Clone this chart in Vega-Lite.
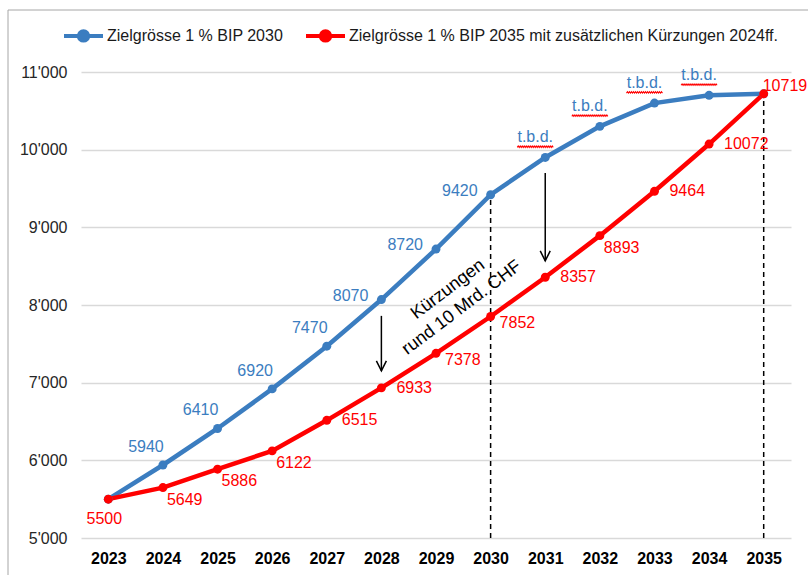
{
  "$schema": "https://vega.github.io/schema/vega-lite/v6.json",
  "width": 710,
  "height": 466,
  "autosize": {"type": "none"},
  "padding": {"left": 81, "top": 72, "right": 17, "bottom": 37},
  "background": "white",
  "config": {
    "view": {"stroke": null},
    "font": "Liberation Sans",
    "text": {"font": "Liberation Sans", "fontSize": 16}
  },
  "datasets": {
    "series": [
      {"year": 2023, "series": "Zielgrösse 1 % BIP 2030", "value": 5500, "label": ""},
      {"year": 2024, "series": "Zielgrösse 1 % BIP 2030", "value": 5940, "label": "5940"},
      {"year": 2025, "series": "Zielgrösse 1 % BIP 2030", "value": 6410, "label": "6410"},
      {"year": 2026, "series": "Zielgrösse 1 % BIP 2030", "value": 6920, "label": "6920"},
      {"year": 2027, "series": "Zielgrösse 1 % BIP 2030", "value": 7470, "label": "7470"},
      {"year": 2028, "series": "Zielgrösse 1 % BIP 2030", "value": 8070, "label": "8070"},
      {"year": 2029, "series": "Zielgrösse 1 % BIP 2030", "value": 8720, "label": "8720"},
      {"year": 2030, "series": "Zielgrösse 1 % BIP 2030", "value": 9420, "label": "9420"},
      {"year": 2031, "series": "Zielgrösse 1 % BIP 2030", "value": 9900, "label": "t.b.d."},
      {"year": 2032, "series": "Zielgrösse 1 % BIP 2030", "value": 10300, "label": "t.b.d."},
      {"year": 2033, "series": "Zielgrösse 1 % BIP 2030", "value": 10600, "label": "t.b.d."},
      {"year": 2034, "series": "Zielgrösse 1 % BIP 2030", "value": 10700, "label": "t.b.d."},
      {"year": 2035, "series": "Zielgrösse 1 % BIP 2030", "value": 10719, "label": ""},
      {"year": 2023, "series": "Zielgrösse 1 % BIP 2035 mit zusätzlichen Kürzungen 2024ff.", "value": 5500, "label": "5500"},
      {"year": 2024, "series": "Zielgrösse 1 % BIP 2035 mit zusätzlichen Kürzungen 2024ff.", "value": 5649, "label": "5649"},
      {"year": 2025, "series": "Zielgrösse 1 % BIP 2035 mit zusätzlichen Kürzungen 2024ff.", "value": 5886, "label": "5886"},
      {"year": 2026, "series": "Zielgrösse 1 % BIP 2035 mit zusätzlichen Kürzungen 2024ff.", "value": 6122, "label": "6122"},
      {"year": 2027, "series": "Zielgrösse 1 % BIP 2035 mit zusätzlichen Kürzungen 2024ff.", "value": 6515, "label": "6515"},
      {"year": 2028, "series": "Zielgrösse 1 % BIP 2035 mit zusätzlichen Kürzungen 2024ff.", "value": 6933, "label": "6933"},
      {"year": 2029, "series": "Zielgrösse 1 % BIP 2035 mit zusätzlichen Kürzungen 2024ff.", "value": 7378, "label": "7378"},
      {"year": 2030, "series": "Zielgrösse 1 % BIP 2035 mit zusätzlichen Kürzungen 2024ff.", "value": 7852, "label": "7852"},
      {"year": 2031, "series": "Zielgrösse 1 % BIP 2035 mit zusätzlichen Kürzungen 2024ff.", "value": 8357, "label": "8357"},
      {"year": 2032, "series": "Zielgrösse 1 % BIP 2035 mit zusätzlichen Kürzungen 2024ff.", "value": 8893, "label": "8893"},
      {"year": 2033, "series": "Zielgrösse 1 % BIP 2035 mit zusätzlichen Kürzungen 2024ff.", "value": 9464, "label": "9464"},
      {"year": 2034, "series": "Zielgrösse 1 % BIP 2035 mit zusätzlichen Kürzungen 2024ff.", "value": 10072, "label": "10072"},
      {"year": 2035, "series": "Zielgrösse 1 % BIP 2035 mit zusätzlichen Kürzungen 2024ff.", "value": 10719, "label": "10719"}
    ],
    "vlines": [
      {"year": 2030, "from": 5000, "to": 9420},
      {"year": 2035, "from": 5000, "to": 10719}
    ],
    "arrows": [
      {"year": 2028, "from": 7860, "to": 7152, "kind": "Pfeil"},
      {"year": 2031, "from": 9700, "to": 8568, "kind": "Pfeil"}
    ],
    "note": [
      {"x": 2029.22, "y": 8200, "text": "Kürzungen\nrund 10 Mrd. CHF"}
    ]
  },
  "encoding": {
    "x": {
      "field": "year",
      "type": "quantitative",
      "scale": {"domain": [2022.5, 2035.5], "nice": false, "zero": false},
      "axis": {
        "values": [2023, 2024, 2025, 2026, 2027, 2028, 2029, 2030, 2031, 2032, 2033, 2034, 2035],
        "format": "d",
        "title": null,
        "grid": false,
        "ticks": false,
        "tickSize": 0,
        "domain": false,
        "labelFont": "Liberation Sans",
        "labelFontSize": 16,
        "labelFontWeight": "bold",
        "labelColor": "#000000",
        "labelPadding": 12
      }
    }
  },
  "layer": [
    {
      "data": {"name": "vlines"},
      "mark": {"type": "rule", "color": "#000000", "strokeWidth": 1.5, "strokeDash": [5, 4]},
      "encoding": {
        "y": {
          "field": "from",
          "type": "quantitative",
          "scale": {"domain": [5000, 11000], "nice": false, "zero": false},
          "axis": {
            "values": [5000, 6000, 7000, 8000, 9000, 10000, 11000],
            "labelExpr": "replace(format(datum.value, ','), ',', \"'\")",
            "title": null,
            "grid": true,
            "gridColor": "#D9D9D9",
            "gridWidth": 1.5,
            "ticks": false,
            "tickSize": 0,
            "domain": false,
            "labelFont": "Liberation Sans",
            "labelFontSize": 16,
            "labelColor": "#262626",
            "labelPadding": 14
          }
        },
        "y2": {"field": "to"}
      }
    },
    {
      "data": {"name": "arrows"},
      "mark": {"type": "rule", "color": "#000000", "strokeWidth": 1.5},
      "encoding": {
        "y": {"field": "from", "type": "quantitative"},
        "y2": {"field": "to"}
      }
    },
    {
      "data": {"name": "arrows"},
      "mark": {"type": "point", "filled": false, "stroke": "#000000", "strokeWidth": 1.5, "size": 100, "opacity": 1},
      "encoding": {
        "y": {"field": "to", "type": "quantitative"},
        "shape": {
          "field": "kind",
          "type": "nominal",
          "scale": {"range": ["M-1,-2L0,0L1,-2"]},
          "legend": {
            "orient": "none",
            "legendX": -73.5,
            "legendY": -62.5,
            "title": null,
            "padding": 800,
            "strokeColor": "#A6A6A6",
            "labelExpr": "''",
            "labelFontSize": 1,
            "symbolSize": 1,
            "symbolOpacity": 0
          }
        }
      }
    },
    {
      "data": {"name": "series"},
      "mark": {"type": "line", "strokeWidth": 4.5, "point": {"filled": true, "size": 80, "opacity": 1}},
      "encoding": {
        "y": {"field": "value", "type": "quantitative"},
        "color": {
          "field": "series",
          "type": "nominal",
          "sort": null,
          "scale": {
            "domain": ["Zielgrösse 1 % BIP 2030", "Zielgrösse 1 % BIP 2035 mit zusätzlichen Kürzungen 2024ff."],
            "range": ["#3B7DC0", "#FF0000"]
          },
          "legend": {
            "orient": "none",
            "legendX": -19,
            "legendY": -58,
            "direction": "horizontal",
            "title": null,
            "labelFont": "Liberation Sans",
            "labelFontSize": 16,
            "labelColor": "#1a1a1a",
            "labelLimit": 0,
            "labelOffset": 2,
            "columnPadding": 14,
            "symbolType": "M-1,0L1,0M0.24,0A0.24,0.24,0,1,1,-0.24,0A0.24,0.24,0,1,1,0.24,0",
            "symbolSize": 1521,
            "symbolStrokeWidth": 4,
            "encode": {"symbols": {"update": {"fill": {"signal": "scale('color', datum.value)"}}}}
          }
        }
      }
    },
    {
      "data": {"name": "series"},
      "transform": [{"filter": {"and": [{"field": "series", "equal": "Zielgrösse 1 % BIP 2030"}, {"field": "year", "oneOf": [2024, 2025, 2026, 2027]}]}}],
      "mark": {"type": "text", "color": "#3B7DC0", "align": "center", "baseline": "middle", "dx": -17, "dy": -18},
      "encoding": {"y": {"field": "value", "type": "quantitative"}, "text": {"field": "label"}}
    },
    {
      "data": {"name": "series"},
      "transform": [{"filter": {"and": [{"field": "series", "equal": "Zielgrösse 1 % BIP 2030"}, {"field": "year", "oneOf": [2028, 2029, 2030]}]}}],
      "mark": {"type": "text", "color": "#3B7DC0", "align": "right", "baseline": "middle", "dx": -13, "dy": -4},
      "encoding": {"y": {"field": "value", "type": "quantitative"}, "text": {"field": "label"}}
    },
    {
      "data": {"name": "series"},
      "transform": [{"filter": {"and": [{"field": "series", "equal": "Zielgrösse 1 % BIP 2030"}, {"field": "year", "oneOf": [2031, 2032, 2033, 2034]}]}}],
      "mark": {"type": "text", "color": "#3B7DC0", "align": "center", "baseline": "middle", "dx": -10, "dy": -20},
      "encoding": {"y": {"field": "value", "type": "quantitative"}, "text": {"field": "label"}}
    },
    {
      "data": {"name": "series"},
      "transform": [{"filter": {"and": [{"field": "series", "equal": "Zielgrösse 1 % BIP 2030"}, {"field": "year", "oneOf": [2031, 2032, 2033, 2034]}]}}],
      "mark": {"type": "point", "shape": "M-2.8,-1.0l0.1,-0.14l0.1,0.14l0.1,-0.14l0.1,0.14l0.1,-0.14l0.1,0.14l0.1,-0.14l0.1,0.14l0.1,-0.14l0.1,0.14l0.1,-0.14l0.1,0.14l0.1,-0.14l0.1,0.14l0.1,-0.14l0.1,0.14l0.1,-0.14l0.1,0.14l0.1,-0.14l0.1,0.14l0.1,-0.14l0.1,0.14l0.1,-0.14l0.1,0.14l0.1,-0.14l0.1,0.14l0.1,-0.14l0.1,0.14l0.1,-0.14l0.1,0.14l0.1,-0.14l0.1,0.14l0.1,-0.14l0.1,0.14l0.1,-0.14l0.1,0.14", "filled": false, "stroke": "#FF0000", "strokeWidth": 1.1, "size": 400, "opacity": 1},
      "encoding": {"y": {"field": "value", "type": "quantitative"}}
    },
    {
      "data": {"name": "series"},
      "transform": [{"filter": {"and": [{"field": "series", "equal": "Zielgrösse 1 % BIP 2035 mit zusätzlichen Kürzungen 2024ff."}, {"field": "year", "oneOf": [2023]}]}}],
      "mark": {"type": "text", "color": "#FF0000", "align": "center", "baseline": "middle", "dx": -4, "dy": 20},
      "encoding": {"y": {"field": "value", "type": "quantitative"}, "text": {"field": "label"}}
    },
    {
      "data": {"name": "series"},
      "transform": [{"filter": {"and": [{"field": "series", "equal": "Zielgrösse 1 % BIP 2035 mit zusätzlichen Kürzungen 2024ff."}, {"field": "year", "oneOf": [2024, 2025, 2026, 2032]}]}}],
      "mark": {"type": "text", "color": "#FF0000", "align": "left", "baseline": "middle", "dx": 4, "dy": 12},
      "encoding": {"y": {"field": "value", "type": "quantitative"}, "text": {"field": "label"}}
    },
    {
      "data": {"name": "series"},
      "transform": [{"filter": {"and": [{"field": "series", "equal": "Zielgrösse 1 % BIP 2035 mit zusätzlichen Kürzungen 2024ff."}, {"field": "year", "oneOf": [2027, 2028, 2031, 2033, 2034]}]}}],
      "mark": {"type": "text", "color": "#FF0000", "align": "left", "baseline": "middle", "dx": 15, "dy": 0},
      "encoding": {"y": {"field": "value", "type": "quantitative"}, "text": {"field": "label"}}
    },
    {
      "data": {"name": "series"},
      "transform": [{"filter": {"and": [{"field": "series", "equal": "Zielgrösse 1 % BIP 2035 mit zusätzlichen Kürzungen 2024ff."}, {"field": "year", "oneOf": [2029, 2030]}]}}],
      "mark": {"type": "text", "color": "#FF0000", "align": "left", "baseline": "middle", "dx": 9, "dy": 7},
      "encoding": {"y": {"field": "value", "type": "quantitative"}, "text": {"field": "label"}}
    },
    {
      "data": {"name": "series"},
      "transform": [{"filter": {"and": [{"field": "series", "equal": "Zielgrösse 1 % BIP 2035 mit zusätzlichen Kürzungen 2024ff."}, {"field": "year", "oneOf": [2035]}]}}],
      "mark": {"type": "text", "color": "#FF0000", "align": "left", "baseline": "middle", "dx": -1, "dy": -8},
      "encoding": {"y": {"field": "value", "type": "quantitative"}, "text": {"field": "label"}}
    },
    {
      "data": {"name": "note"},
      "mark": {"type": "text", "color": "#000000", "align": "center", "baseline": "middle", "angle": -37, "lineBreak": "\n", "fontSize": 18, "lineHeight": 23},
      "encoding": {
        "x": {"field": "x", "type": "quantitative"},
        "y": {"field": "y", "type": "quantitative"},
        "text": {"field": "text"}
      }
    }
  ]
}
